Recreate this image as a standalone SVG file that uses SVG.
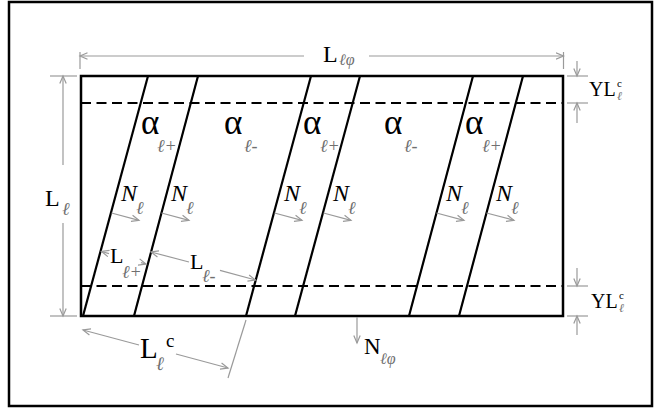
<svg xmlns="http://www.w3.org/2000/svg" width="661" height="411" viewBox="0 0 661 411">
<style>
text{font-family:"Liberation Serif","DejaVu Serif",serif;fill:#000}
.sub{fill:#707070;font-style:italic;font-size:18px}
.al{font-size:35px}
.lbl{font-size:22px}
.ni{font-size:24px;font-style:italic}
.thick{stroke:#000;stroke-width:2.5;fill:none}
.slant{stroke:#000;stroke-width:2.2;fill:none}
.dash{stroke:#000;stroke-width:2;stroke-dasharray:10 5.5;fill:none}
.g{stroke:#9a9a9a;stroke-width:1.2;fill:none}
.ga{stroke:#9a9a9a;stroke-width:1.2;fill:none;marker-end:url(#ah)}
</style>
<defs>
<marker id="ah" markerUnits="userSpaceOnUse" markerWidth="10" markerHeight="10" refX="8" refY="4" orient="auto-start-reverse">
<path d="M0.5,0.8 L8,4 L0.5,7.2" fill="none" stroke="#9a9a9a" stroke-width="1.2"/>
</marker>
</defs>
<rect x="9" y="2" width="643" height="404" fill="#fff" stroke="#000" stroke-width="2.5"/>
<g id="panel">
<rect x="81" y="76" width="482" height="240" class="thick"/>
<line x1="81" y1="103" x2="563" y2="103" class="dash"/>
<line x1="81" y1="286" x2="563" y2="286" class="dash"/>
</g>
<g id="interfaces">
<line x1="148" y1="76" x2="83" y2="316" class="slant"/>
<line x1="198" y1="76" x2="134" y2="316" class="slant"/>
<line x1="311" y1="76" x2="246" y2="316" class="slant"/>
<line x1="360" y1="76" x2="295" y2="316" class="slant"/>
<line x1="473" y1="76" x2="409" y2="316" class="slant"/>
<line x1="523" y1="76" x2="459" y2="316" class="slant"/>
</g>
<g id="angles">
<text x="141" y="134" class="al">α</text><text x="157" y="152" class="sub">ℓ+</text>
<text x="224" y="134" class="al">α</text><text x="244" y="152" class="sub">ℓ-</text>
<text x="303" y="134" class="al">α</text><text x="320" y="152" class="sub">ℓ+</text>
<text x="384" y="134" class="al">α</text><text x="404" y="152" class="sub">ℓ-</text>
<text x="465" y="134" class="al">α</text><text x="482" y="152" class="sub">ℓ+</text>
</g>
<g id="normals">
<line x1="111.5" y1="213" x2="139" y2="220.3" class="ga"/>
<line x1="161.5" y1="213" x2="189" y2="220.3" class="ga"/>
<line x1="274.5" y1="213" x2="302" y2="220.3" class="ga"/>
<line x1="323.5" y1="213" x2="351" y2="220.3" class="ga"/>
<line x1="436.5" y1="213" x2="464" y2="220.3" class="ga"/>
<line x1="486.5" y1="213" x2="514" y2="220.3" class="ga"/>
<text x="121" y="201" class="ni">N</text><text x="136" y="214" class="sub">ℓ</text>
<text x="171" y="201" class="ni">N</text><text x="186" y="214" class="sub">ℓ</text>
<text x="284" y="201" class="ni">N</text><text x="299" y="214" class="sub">ℓ</text>
<text x="333" y="201" class="ni">N</text><text x="348" y="214" class="sub">ℓ</text>
<text x="446" y="201" class="ni">N</text><text x="461" y="214" class="sub">ℓ</text>
<text x="496" y="201" class="ni">N</text><text x="511" y="214" class="sub">ℓ</text>
</g>
<g id="dimensions">
<line x1="304" y1="56" x2="80" y2="56" class="ga"/>
<line x1="369" y1="56" x2="563.5" y2="56" class="ga"/>
<line x1="80" y1="52" x2="80" y2="69" class="g"/>
<line x1="563.5" y1="52" x2="563.5" y2="69" class="g"/>
<text x="323" y="62" style="font-size:24px">L</text><text x="339" y="65" class="sub" style="font-size:16px">ℓφ</text>
<line x1="63" y1="165" x2="63" y2="76" class="ga"/>
<line x1="63" y1="223" x2="63" y2="316" class="ga"/>
<line x1="50" y1="76" x2="77" y2="76" class="g"/>
<line x1="50" y1="316" x2="77" y2="316" class="g"/>
<text x="45" y="206" style="font-size:24px">L</text><text x="62" y="215" class="sub">ℓ</text>
<line x1="567" y1="76" x2="588" y2="76" class="g"/>
<line x1="567" y1="103" x2="588" y2="103" class="g"/>
<line x1="577" y1="61" x2="577" y2="76" class="ga"/>
<line x1="577" y1="123" x2="577" y2="103" class="ga"/>
<text x="589" y="96" style="font-size:20px">YL</text><text x="617" y="87" style="font-size:11px">c</text><text x="617" y="100" class="sub" style="font-size:12px">ℓ</text>
<line x1="567" y1="286" x2="588" y2="286" class="g"/>
<line x1="567" y1="316" x2="588" y2="316" class="g"/>
<line x1="577" y1="268" x2="577" y2="286" class="ga"/>
<line x1="577" y1="335" x2="577" y2="316" class="ga"/>
<text x="591" y="308" style="font-size:20px">YL</text><text x="619" y="299" style="font-size:11px">c</text><text x="619" y="312" class="sub" style="font-size:12px">ℓ</text>
<line x1="109" y1="253.6" x2="101.5" y2="251.5" class="ga"/>
<line x1="141" y1="262.6" x2="146" y2="264" class="ga"/>
<text x="110" y="263" class="lbl">L</text><text x="122" y="278" class="sub">ℓ+</text>
<line x1="189" y1="262" x2="151" y2="252" class="ga"/>
<line x1="220" y1="270.3" x2="255.5" y2="280" class="ga"/>
<text x="190" y="269" class="lbl">L</text><text x="202" y="282" class="sub">ℓ-</text>
<line x1="246" y1="320" x2="228" y2="378" class="g"/>
<line x1="139" y1="345" x2="83" y2="330" class="ga"/>
<line x1="176" y1="354" x2="228" y2="368" class="ga"/>
<text x="140" y="358" style="font-size:29px">L</text><text x="166" y="347" style="font-size:19px">c</text><text x="156" y="370" class="sub" style="font-size:19px">ℓ</text>
<line x1="357" y1="317" x2="357" y2="343" class="ga"/>
<text x="364" y="354" style="font-size:23px">N</text><text x="380" y="364" class="sub" style="font-size:16px">ℓφ</text>
</g>
</svg>
